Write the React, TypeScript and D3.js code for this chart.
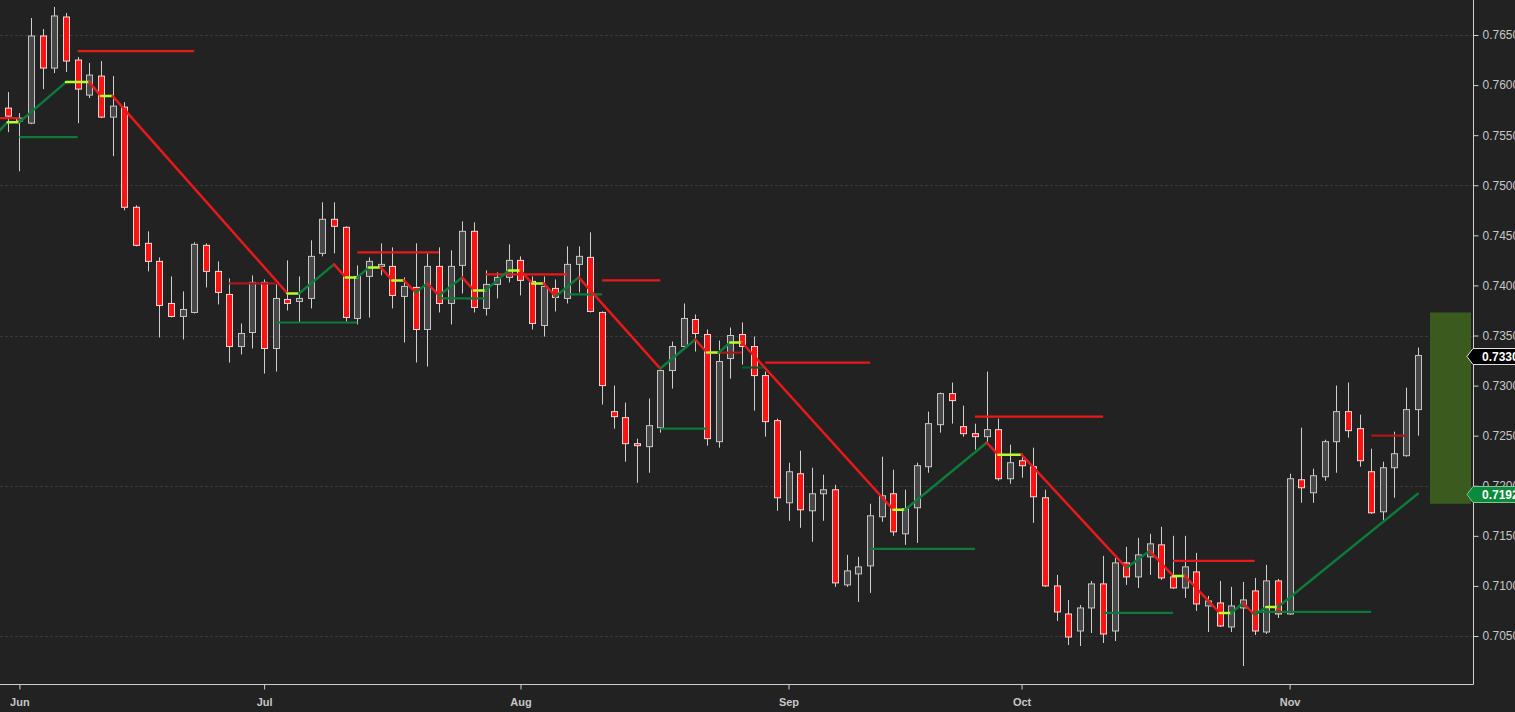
import React, { useEffect, useRef } from 'react';
import * as d3 from 'd3';

const WIDTH = 1515;
const HEIGHT = 712;
const PLOT_RIGHT = 1473;
const PLOT_BOTTOM = 684;

// daily bars, weekdays only
const firstBar = '2018-05-31';
const lastBar = '2018-11-16';

const opens = [
  0.7577, 0.7564, 0.7562, 0.7649, 0.7617, 0.7668, 0.7625, 0.759, 0.7609, 0.7568, 0.7578, 0.7478, 0.7442, 0.7424,
  0.7382, 0.7369, 0.7373, 0.744, 0.7414, 0.7391, 0.7339, 0.7353, 0.7403, 0.7337, 0.7386, 0.7384, 0.7387, 0.7432,
  0.7466, 0.7458, 0.7367, 0.7409, 0.7419, 0.7419, 0.7389, 0.7398, 0.7356, 0.7419, 0.7382, 0.742, 0.7454, 0.7377,
  0.7401, 0.7408, 0.7425, 0.7404, 0.736, 0.7397, 0.7387, 0.7421, 0.7428, 0.7373, 0.7274, 0.7268, 0.7242, 0.7239,
  0.7258, 0.7315, 0.7339, 0.7366, 0.7351, 0.7244, 0.7327, 0.7351, 0.7339, 0.731, 0.7265, 0.7183, 0.7212, 0.7175,
  0.7192, 0.7196, 0.7101, 0.7112, 0.712, 0.7169, 0.7192, 0.7152, 0.7178, 0.7219, 0.7261, 0.7292, 0.7259, 0.7252,
  0.7249, 0.7256, 0.7207, 0.7225, 0.7219, 0.7188, 0.71, 0.7072, 0.7055, 0.7078, 0.7102, 0.7055, 0.7123, 0.7109,
  0.7129, 0.7141, 0.7109, 0.7098, 0.7114, 0.708, 0.7083, 0.7059, 0.7078, 0.7095, 0.7054, 0.7105, 0.7072, 0.7206,
  0.7193, 0.7209, 0.7244, 0.7274, 0.7257, 0.7214, 0.7174, 0.7218, 0.723, 0.7276,
];
const highs = [
  0.7593, 0.7572, 0.7667, 0.7656, 0.7678, 0.7672, 0.7628, 0.7622, 0.7624, 0.7609, 0.7583, 0.748, 0.7454, 0.7428,
  0.7409, 0.7394, 0.7443, 0.7442, 0.7424, 0.7407, 0.7362, 0.741, 0.7406, 0.7401, 0.7425, 0.7409, 0.7445, 0.7483,
  0.7483, 0.7459, 0.742, 0.7428, 0.7442, 0.7438, 0.7408, 0.7442, 0.7432, 0.7438, 0.7435, 0.7464, 0.7463, 0.7415,
  0.7413, 0.7441, 0.7429, 0.7409, 0.7409, 0.7406, 0.7439, 0.7439, 0.7453, 0.7374, 0.73, 0.7283, 0.7247, 0.7287,
  0.7318, 0.7344, 0.7382, 0.7371, 0.7356, 0.7345, 0.7358, 0.7363, 0.7349, 0.7314, 0.7267, 0.7223, 0.7235, 0.7218,
  0.7211, 0.7201, 0.7131, 0.7129, 0.7182, 0.7229, 0.7216, 0.7196, 0.7223, 0.7274, 0.7293, 0.7303, 0.728, 0.7262,
  0.7314, 0.7267, 0.7241, 0.7229, 0.7238, 0.7196, 0.7111, 0.7086, 0.7081, 0.7105, 0.713, 0.7128, 0.7139, 0.7148,
  0.7152, 0.7159, 0.715, 0.715, 0.7133, 0.709, 0.7105, 0.7099, 0.7104, 0.7108, 0.7121, 0.7107, 0.7212, 0.7258,
  0.7217, 0.7246, 0.73, 0.7303, 0.7271, 0.7237, 0.7224, 0.7254, 0.7298, 0.7338,
];
const lows = [
  0.7553, 0.7514, 0.7561, 0.7596, 0.7612, 0.7613, 0.7562, 0.7587, 0.7567, 0.7529, 0.7475, 0.7439, 0.7414, 0.7348,
  0.7368, 0.7346, 0.7372, 0.7398, 0.7381, 0.7323, 0.7331, 0.7337, 0.7312, 0.7314, 0.7375, 0.7363, 0.7377, 0.7429,
  0.7432, 0.7364, 0.7361, 0.7368, 0.741, 0.7377, 0.7343, 0.7323, 0.7319, 0.7373, 0.7361, 0.7392, 0.7373, 0.737,
  0.7387, 0.7403, 0.739, 0.7356, 0.7349, 0.7374, 0.7382, 0.7393, 0.7373, 0.7281, 0.7257, 0.7224, 0.7203, 0.7213,
  0.7253, 0.7297, 0.7336, 0.7334, 0.724, 0.7238, 0.7307, 0.7321, 0.7275, 0.7249, 0.7175, 0.7165, 0.7158, 0.7144,
  0.7165, 0.7099, 0.7099, 0.7084, 0.7093, 0.7164, 0.715, 0.7141, 0.7143, 0.7213, 0.7253, 0.7262, 0.7249, 0.7236,
  0.7242, 0.7205, 0.7202, 0.7208, 0.7163, 0.7099, 0.7065, 0.7041, 0.704, 0.7053, 0.7043, 0.7045, 0.7101, 0.7098,
  0.7111, 0.7106, 0.7097, 0.7088, 0.7075, 0.7054, 0.7059, 0.7054, 0.702, 0.7051, 0.7052, 0.7068, 0.7071, 0.7183,
  0.7183, 0.7205, 0.7213, 0.7248, 0.7219, 0.7172, 0.7165, 0.7188, 0.7229, 0.725,
];
const closes = [
  0.7569, 0.7567, 0.7649, 0.7617, 0.7669, 0.7624, 0.7596, 0.761, 0.7568, 0.7579, 0.7478, 0.744, 0.7424, 0.738,
  0.7369, 0.7376, 0.7441, 0.7414, 0.7393, 0.7339, 0.7352, 0.7403, 0.7337, 0.7387, 0.7382, 0.7387, 0.7429, 0.7466,
  0.7459, 0.7368, 0.7409, 0.7424, 0.7421, 0.739, 0.7399, 0.7356, 0.7419, 0.7382, 0.7419, 0.7454, 0.7378, 0.7401,
  0.7408, 0.7425, 0.7405, 0.7362, 0.7399, 0.7388, 0.7421, 0.7429, 0.7374, 0.73, 0.7269, 0.7242, 0.724, 0.726,
  0.7315, 0.7339, 0.7367, 0.7352, 0.7247, 0.7324, 0.735, 0.7339, 0.731, 0.7264, 0.7188, 0.7214, 0.7176, 0.7192,
  0.7196, 0.7103, 0.7115, 0.7119, 0.717, 0.719, 0.7154, 0.7177, 0.722, 0.7262, 0.7292, 0.7285, 0.7252, 0.7249,
  0.7256, 0.7207, 0.7223, 0.722, 0.7189, 0.71, 0.7074, 0.7049, 0.7078, 0.7102, 0.7052, 0.7123, 0.7109, 0.7131,
  0.7142, 0.7108, 0.7098, 0.7119, 0.7082, 0.7085, 0.706, 0.708, 0.7086, 0.7055, 0.7105, 0.7072, 0.7207, 0.7198,
  0.721, 0.7244, 0.7274, 0.7255, 0.7225, 0.7173, 0.7218, 0.7232, 0.7276, 0.733,
];

// trend line pivots (flat steps are drawn in lime)
const trendDates = [
  '2018-05-30', '2018-05-31', '2018-06-01', '2018-06-07', '2018-06-11', '2018-06-12', '2018-06-13', '2018-07-04',
  '2018-07-05', '2018-07-10', '2018-07-11', '2018-07-12', '2018-07-13', '2018-07-16', '2018-07-17', '2018-07-18',
  '2018-07-19', '2018-07-20', '2018-07-23', '2018-07-25', '2018-07-26', '2018-07-27', '2018-07-31', '2018-08-01',
  '2018-08-02', '2018-08-03', '2018-08-06', '2018-08-08', '2018-08-17', '2018-08-22', '2018-08-23', '2018-08-24',
  '2018-08-27', '2018-08-28', '2018-09-14', '2018-09-17', '2018-09-26', '2018-09-27', '2018-10-01', '2018-10-12',
  '2018-10-16', '2018-10-18', '2018-10-19', '2018-10-24', '2018-10-25', '2018-10-26', '2018-10-29', '2018-10-30',
  '2018-10-31', '2018-11-16',
];
const trendValues = [
  0.7551, 0.7563, 0.7563, 0.7603, 0.7603, 0.7589, 0.7589, 0.7392, 0.7392, 0.7421, 0.7408, 0.7408, 0.7418, 0.7418,
  0.7405, 0.7405, 0.7393, 0.7402, 0.739, 0.7408, 0.7395, 0.7395, 0.7415, 0.7415, 0.7402, 0.7402, 0.7389, 0.7408,
  0.7317, 0.7346, 0.7333, 0.7333, 0.7343, 0.7343, 0.7176, 0.7176, 0.7243, 0.7231, 0.7231, 0.7118, 0.7135, 0.711,
  0.711, 0.7073, 0.7073, 0.7083, 0.7071, 0.7079, 0.7079, 0.7192,
];

// resistance levels
const resistanceStart = ['2018-05-30', '2018-06-08', '2018-06-27', '2018-07-12', '2018-07-27', '2018-08-10', '2018-08-23', '2018-08-30', '2018-09-25', '2018-10-18', '2018-11-12'];
const resistanceEnd = ['2018-06-01', '2018-06-22', '2018-07-03', '2018-07-23', '2018-08-07', '2018-08-17', '2018-08-28', '2018-09-12', '2018-10-10', '2018-10-29', '2018-11-15'];
const resistanceValue = [0.7567, 0.7634, 0.7402, 0.7433, 0.7411, 0.7405, 0.7333, 0.7323, 0.7269, 0.7125, 0.725];
const resistanceFaded = [false, false, true, false, false, false, true, false, false, false, true];

// support levels
const supportStart = ['2018-06-01', '2018-07-03', '2018-07-23', '2018-08-07', '2018-08-17', '2018-08-28', '2018-09-12', '2018-10-10', '2018-10-29'];
const supportEnd = ['2018-06-08', '2018-07-12', '2018-07-27', '2018-08-10', '2018-08-23', '2018-08-30', '2018-09-25', '2018-10-18', '2018-11-12'];
const supportValue = [0.7548, 0.7363, 0.7387, 0.7391, 0.7257, 0.7318, 0.7137, 0.7073, 0.7074];
const supportFaded = [false, false, false, false, false, true, false, false, false];

// shaded range at the right edge
const rangeBox = [0.7182, 0.7373];

const priceTicks = [0.705, 0.71, 0.715, 0.72, 0.725, 0.73, 0.735, 0.74, 0.745, 0.75, 0.755, 0.76, 0.765];
const gridTicks = [0.705, 0.72, 0.735, 0.75, 0.765];

const FONT = 'Arial, "Liberation Sans", sans-serif';
const RED = '#e8191a';
const GREEN = '#0c7a3a';
const LIME = '#b4ff2e';

const parse = d3.utcParse('%Y-%m-%d');
const isWeekday = (d: Date) => d.getUTCDay() !== 0 && d.getUTCDay() !== 6;

const App: React.FC = () => {
  const svgRef = useRef<SVGSVGElement>(null);

  useEffect(() => {
    const svg = d3.select(svgRef.current);
    svg.selectAll('*').remove();

    const start = parse(firstBar) as Date;
    const end = parse(lastBar) as Date;
    const bars = d3.utcDay.range(start, d3.utcDay.offset(end, 1)).filter(isWeekday);

    const barIndex = (s: string) => {
      const d = parse(s) as Date;
      if (d >= start) return d3.utcDay.range(start, d).filter(isWeekday).length;
      return -d3.utcDay.range(d, start).filter(isWeekday).length;
    };

    const x = d3
      .scaleLinear()
      .domain([barIndex('2018-06-01'), barIndex('2018-11-01')])
      .range([19.4, 1289.6]);
    const y = d3.scaleLinear().domain([0.705, 0.765]).range([636, 35]);

    svg.append('rect').attr('width', WIDTH).attr('height', HEIGHT).attr('fill', '#222222');

    svg
      .append('defs')
      .append('clipPath')
      .attr('id', 'plot-clip')
      .append('rect')
      .attr('width', PLOT_RIGHT)
      .attr('height', PLOT_BOTTOM);

    // grid
    svg
      .append('g')
      .selectAll('line')
      .data(gridTicks)
      .enter()
      .append('line')
      .attr('x1', 0)
      .attr('x2', PLOT_RIGHT)
      .attr('y1', d => Math.round(y(d)) + 0.5)
      .attr('y2', d => Math.round(y(d)) + 0.5)
      .attr('stroke', '#3a3a3a')
      .attr('stroke-dasharray', '3,2');

    const plot = svg.append('g').attr('clip-path', 'url(#plot-clip)');

    // range box
    plot
      .append('rect')
      .attr('x', 1430)
      .attr('width', 41)
      .attr('y', y(rangeBox[1]))
      .attr('height', y(rangeBox[0]) - y(rangeBox[1]))
      .attr('fill', '#3b5a1e');

    // candles
    const candles = plot
      .selectAll('.candle')
      .data(bars)
      .enter()
      .append('g')
      .attr('class', 'candle');

    candles
      .append('line')
      .attr('x1', (d, i) => Math.round(x(i)) + 0.5)
      .attr('x2', (d, i) => Math.round(x(i)) + 0.5)
      .attr('y1', (d, i) => y(highs[i]))
      .attr('y2', (d, i) => y(lows[i]))
      .attr('stroke', '#cfcfcf')
      .attr('stroke-width', 1);

    candles
      .append('rect')
      .attr('x', (d, i) => Math.round(x(i)) - 2.5)
      .attr('width', 6)
      .attr('y', (d, i) => y(Math.max(opens[i], closes[i])))
      .attr('height', (d, i) => Math.max(1, Math.abs(y(opens[i]) - y(closes[i]))))
      .attr('fill', (d, i) => (closes[i] < opens[i] ? '#ff1212' : '#474747'))
      .attr('stroke', (d, i) => (closes[i] < opens[i] ? '#f2d6d6' : '#c4c4c4'))
      .attr('stroke-width', 1);

    // support / resistance levels
    const drawLevels = (
      starts: string[],
      ends: string[],
      values: number[],
      faded: boolean[],
      color: string,
      fadedColor: string
    ) => {
      plot
        .append('g')
        .selectAll('line')
        .data(values)
        .enter()
        .append('line')
        .attr('x1', (d, i) => x(barIndex(starts[i])))
        .attr('x2', (d, i) => x(barIndex(ends[i])))
        .attr('y1', d => y(d))
        .attr('y2', d => y(d))
        .attr('stroke', (d, i) => (faded[i] ? fadedColor : color))
        .attr('stroke-width', 2.2);
    };
    drawLevels(resistanceStart, resistanceEnd, resistanceValue, resistanceFaded, RED, '#a8191a');
    drawLevels(supportStart, supportEnd, supportValue, supportFaded, GREEN, '#0a5a2c');

    // trend line, coloured by direction
    const segs = d3.pairs(trendDates.map((t, i) => ({ i: barIndex(t), v: trendValues[i] })));
    plot
      .append('g')
      .selectAll('line')
      .data(segs)
      .enter()
      .append('line')
      .attr('x1', d => x(d[0].i))
      .attr('x2', d => x(d[1].i))
      .attr('y1', d => y(d[0].v))
      .attr('y2', d => y(d[1].v))
      .attr('stroke', d => (d[1].v > d[0].v ? GREEN : d[1].v < d[0].v ? RED : LIME))
      .attr('stroke-width', 2.5)
      .attr('stroke-linecap', 'round');

    // axes frame
    svg
      .append('line')
      .attr('x1', PLOT_RIGHT + 0.5)
      .attr('x2', PLOT_RIGHT + 0.5)
      .attr('y1', 0)
      .attr('y2', PLOT_BOTTOM + 0.5)
      .attr('stroke', '#d0d0d0');
    svg
      .append('line')
      .attr('x1', 0)
      .attr('x2', PLOT_RIGHT + 0.5)
      .attr('y1', PLOT_BOTTOM + 0.5)
      .attr('y2', PLOT_BOTTOM + 0.5)
      .attr('stroke', '#d0d0d0');

    // price axis
    const yAxis = svg
      .append('g')
      .attr('transform', `translate(${PLOT_RIGHT + 0.5},0)`)
      .call(
        d3
          .axisRight(y)
          .tickValues(priceTicks)
          .tickFormat(d => d3.format('.5f')(d as number))
          .tickSize(5)
          .tickSizeOuter(0)
          .tickPadding(4)
      );
    yAxis.select('.domain').remove();
    yAxis.selectAll('line').attr('stroke', '#d0d0d0');
    yAxis
      .selectAll('text')
      .attr('fill', '#c6c6c6')
      .style('font-family', FONT)
      .style('font-size', '12px');

    // month axis
    const monthStarts = bars
      .map((d, i) => i)
      .filter(i => i > 0 && bars[i].getUTCMonth() !== bars[i - 1].getUTCMonth());
    const xAxis = svg
      .append('g')
      .attr('transform', `translate(0,${PLOT_BOTTOM + 0.5})`)
      .call(
        d3
          .axisBottom(x)
          .tickValues(monthStarts)
          .tickFormat(i => d3.utcFormat('%b')(bars[i as number]))
          .tickSize(5)
          .tickSizeOuter(0)
          .tickPadding(9)
      );
    xAxis.select('.domain').remove();
    xAxis.selectAll('line').attr('stroke', '#d0d0d0');
    xAxis
      .selectAll('text')
      .attr('fill', '#c6c6c6')
      .style('font-family', FONT)
      .style('font-size', '11px')
      .style('font-weight', 'bold');

    // price tags
    const tag = (value: number, fill: string, stroke: string) => {
      const ty = Math.round(y(value)) + 0.5;
      const g = svg.append('g');
      g.append('path')
        .attr(
          'd',
          `M${PLOT_RIGHT - 6},${ty} L${PLOT_RIGHT},${ty - 8} L${WIDTH + 2},${ty - 8} L${WIDTH + 2},${ty + 8} L${PLOT_RIGHT},${ty + 8} Z`
        )
        .attr('fill', fill)
        .attr('stroke', stroke)
        .attr('stroke-width', 1);
      g.append('text')
        .attr('x', PLOT_RIGHT + 9)
        .attr('y', ty)
        .attr('dy', '0.36em')
        .attr('fill', '#ffffff')
        .style('font-family', FONT)
        .style('font-size', '12px')
        .style('font-weight', 'bold')
        .text(d3.format('.5f')(value));
    };
    tag(closes[closes.length - 1], '#000000', '#e0e0e0');
    tag(trendValues[trendValues.length - 1], '#0b8a3c', '#7fc79a');
  }, []);

  return (
    <div style={{ position: 'fixed', left: 0, top: 0, width: WIDTH, height: HEIGHT, background: '#222222' }}>
      <svg ref={svgRef} width={WIDTH} height={HEIGHT} style={{ display: 'block' }} />
    </div>
  );
};

export default App;
